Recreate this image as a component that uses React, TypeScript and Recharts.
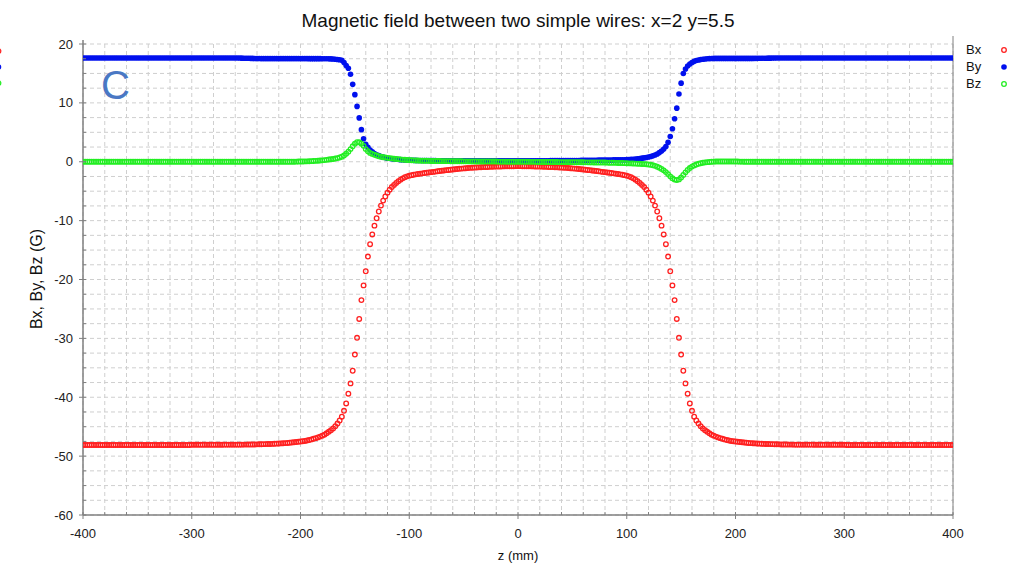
import React from 'react';
import { ScatterChart, Scatter, XAxis, YAxis, CartesianGrid, ReferenceLine } from 'recharts';

const FONT = '"Liberation Sans", Arial, Helvetica, sans-serif';

const zValues = [
  -400, -398, -396, -394, -392, -390, -388, -386, -384, -382,
  -380, -378, -376, -374, -372, -370, -368, -366, -364, -362,
  -360, -358, -356, -354, -352, -350, -348, -346, -344, -342,
  -340, -338, -336, -334, -332, -330, -328, -326, -324, -322,
  -320, -318, -316, -314, -312, -310, -308, -306, -304, -302,
  -300, -298, -296, -294, -292, -290, -288, -286, -284, -282,
  -280, -278, -276, -274, -272, -270, -268, -266, -264, -262,
  -260, -258, -256, -254, -252, -250, -248, -246, -244, -242,
  -240, -238, -236, -234, -232, -230, -228, -226, -224, -222,
  -220, -218, -216, -214, -212, -210, -208, -206, -204, -202,
  -200, -198, -196, -194, -192, -190, -188, -186, -184, -182,
  -180,
  -178, -176, -174, -172, -170, -168, -166, -164, -162, -160, -158, -156, -154, -152, -150, -148, -146, -144, -142, -140, -138, -136, -134, -132, -130, -128, -126, -124, -122,
  -120, -118, -116, -114, -112, -110, -108, -106, -104, -102,
  -100, -98, -96, -94, -92, -90, -88, -86, -84, -82,
  -80, -78, -76, -74, -72, -70, -68, -66, -64, -62,
  -60, -58, -56, -54, -52, -50, -48, -46, -44, -42,
  -40, -38, -36, -34, -32, -30, -28, -26, -24, -22,
  -20, -18, -16, -14, -12, -10, -8, -6, -4, -2,
  0,
  2, 4, 6, 8, 10, 12, 14, 16, 18, 20,
  22, 24, 26, 28, 30, 32, 34, 36, 38, 40,
  42, 44, 46, 48, 50, 52, 54, 56, 58, 60,
  62, 64, 66, 68, 70, 72, 74, 76, 78, 80,
  82, 84, 86, 88, 90, 92, 94, 96, 98, 100,
  102, 104, 106, 108, 110, 112, 114, 116, 118, 120,
  122, 124, 126, 128, 130, 132, 134, 136, 138, 140, 142, 144, 146, 148, 150, 152, 154, 156, 158, 160, 162, 164, 166, 168, 170, 172, 174, 176, 178,
  180,
  182, 184, 186, 188, 190, 192, 194, 196, 198, 200,
  202, 204, 206, 208, 210, 212, 214, 216, 218, 220,
  222, 224, 226, 228, 230, 232, 234, 236, 238, 240,
  242, 244, 246, 248, 250, 252, 254, 256, 258, 260,
  262, 264, 266, 268, 270, 272, 274, 276, 278, 280,
  282, 284, 286, 288, 290, 292, 294, 296, 298, 300,
  302, 304, 306, 308, 310, 312, 314, 316, 318, 320,
  322, 324, 326, 328, 330, 332, 334, 336, 338, 340,
  342, 344, 346, 348, 350, 352, 354, 356, 358, 360,
  362, 364, 366, 368, 370, 372, 374, 376, 378, 380,
  382, 384, 386, 388, 390, 392, 394, 396, 398, 400,
];

const bxValues = [
  -48.1, -48.1, -48.1, -48.1, -48.1, -48.1, -48.1, -48.1, -48.1, -48.1,
  -48.1, -48.1, -48.1, -48.1, -48.1, -48.1, -48.1, -48.1, -48.1, -48.1,
  -48.1, -48.1, -48.1, -48.1, -48.1, -48.1, -48.1, -48.1, -48.1, -48.1,
  -48.1, -48.1, -48.1, -48.1, -48.1, -48.1, -48.1, -48.1, -48.1, -48.1,
  -48.1, -48.1, -48.1, -48.1, -48.1, -48.1, -48.1, -48.1, -48.1, -48.1,
  -48.08, -48.08, -48.08, -48.08, -48.08, -48.07, -48.07, -48.07, -48.07, -48.07,
  -48.06, -48.06, -48.06, -48.06, -48.06, -48.05, -48.05, -48.05, -48.05, -48.05,
  -48.05, -48.05, -48.05, -48.05, -48.04, -48.04, -48.03, -48.03, -48.02, -48.02,
  -48.0, -47.99, -47.98, -47.97, -47.96, -47.95, -47.93, -47.92, -47.9, -47.88,
  -47.86, -47.84, -47.81, -47.79, -47.76, -47.73, -47.69, -47.65, -47.61, -47.57,
  -47.52, -47.47, -47.42, -47.34, -47.25, -47.16, -47.06, -46.95, -46.82, -46.68,
  -46.52,
  -46.35, -46.12, -45.87, -45.6, -45.3, -44.92, -44.47, -43.95, -43.3, -42.3, -41.05, -39.4, -37.65, -35.5, -32.75, -29.9, -26.7, -23.5, -21.0, -18.6, -16.1, -14.0, -12.35, -10.85, -9.6, -8.45, -7.45, -6.6, -5.9,
  -5.25, -4.75, -4.3, -3.93, -3.6, -3.3, -3.04, -2.82, -2.63, -2.48,
  -2.36, -2.28, -2.2, -2.14, -2.08, -2.02, -1.97, -1.92, -1.87, -1.82,
  -1.77, -1.72, -1.67, -1.62, -1.57, -1.52, -1.48, -1.43, -1.39, -1.35,
  -1.31, -1.27, -1.23, -1.19, -1.16, -1.13, -1.1, -1.07, -1.04, -1.01,
  -0.99, -0.97, -0.95, -0.93, -0.91, -0.89, -0.88, -0.86, -0.85, -0.83,
  -0.82, -0.81, -0.8, -0.79, -0.78, -0.77, -0.77, -0.76, -0.76, -0.75,
  -0.75,
  -0.75, -0.76, -0.76, -0.77, -0.77, -0.78, -0.79, -0.8, -0.81, -0.82,
  -0.83, -0.85, -0.86, -0.88, -0.89, -0.91, -0.93, -0.95, -0.97, -0.99,
  -1.01, -1.04, -1.07, -1.1, -1.13, -1.16, -1.19, -1.23, -1.27, -1.31,
  -1.35, -1.39, -1.43, -1.48, -1.52, -1.57, -1.62, -1.67, -1.72, -1.77,
  -1.82, -1.87, -1.92, -1.97, -2.02, -2.08, -2.14, -2.2, -2.28, -2.36,
  -2.48, -2.63, -2.82, -3.04, -3.3, -3.6, -3.93, -4.3, -4.75, -5.25,
  -5.9, -6.6, -7.45, -8.45, -9.6, -10.85, -12.35, -14.0, -16.1, -18.6, -21.0, -23.5, -26.7, -29.9, -32.75, -35.5, -37.65, -39.4, -41.05, -42.3, -43.3, -43.95, -44.47, -44.92, -45.3, -45.6, -45.87, -46.12, -46.35,
  -46.52,
  -46.68, -46.82, -46.95, -47.06, -47.16, -47.25, -47.34, -47.42, -47.47, -47.52,
  -47.57, -47.61, -47.65, -47.69, -47.73, -47.76, -47.79, -47.81, -47.84, -47.86,
  -47.88, -47.9, -47.92, -47.93, -47.95, -47.96, -47.97, -47.98, -47.99, -48.0,
  -48.02, -48.02, -48.03, -48.03, -48.04, -48.04, -48.05, -48.05, -48.05, -48.05,
  -48.05, -48.05, -48.05, -48.05, -48.05, -48.06, -48.06, -48.06, -48.06, -48.06,
  -48.07, -48.07, -48.07, -48.07, -48.07, -48.08, -48.08, -48.08, -48.08, -48.08,
  -48.1, -48.1, -48.1, -48.1, -48.1, -48.1, -48.1, -48.1, -48.1, -48.1,
  -48.1, -48.1, -48.1, -48.1, -48.1, -48.1, -48.1, -48.1, -48.1, -48.1,
  -48.1, -48.1, -48.1, -48.1, -48.1, -48.1, -48.1, -48.1, -48.1, -48.1,
  -48.1, -48.1, -48.1, -48.1, -48.1, -48.1, -48.1, -48.1, -48.1, -48.1,
  -48.1, -48.1, -48.1, -48.1, -48.1, -48.1, -48.1, -48.1, -48.1, -48.1,
];

const byValues = [
  17.62, 17.62, 17.62, 17.62, 17.62, 17.62, 17.62, 17.62, 17.62, 17.62,
  17.62, 17.62, 17.62, 17.62, 17.62, 17.62, 17.62, 17.62, 17.62, 17.62,
  17.62, 17.62, 17.62, 17.62, 17.62, 17.62, 17.62, 17.62, 17.62, 17.62,
  17.62, 17.62, 17.62, 17.62, 17.62, 17.62, 17.62, 17.62, 17.62, 17.62,
  17.62, 17.62, 17.62, 17.62, 17.62, 17.62, 17.62, 17.62, 17.62, 17.62,
  17.62, 17.62, 17.62, 17.62, 17.62, 17.62, 17.62, 17.62, 17.62, 17.62,
  17.62, 17.62, 17.62, 17.62, 17.62, 17.62, 17.62, 17.62, 17.62, 17.62,
  17.62, 17.62, 17.61, 17.6, 17.59, 17.58, 17.57, 17.56, 17.55, 17.54,
  17.53, 17.53, 17.52, 17.52, 17.52, 17.52, 17.52, 17.52, 17.52, 17.52,
  17.52, 17.52, 17.52, 17.52, 17.52, 17.52, 17.52, 17.52, 17.52, 17.52,
  17.52, 17.52, 17.52, 17.52, 17.51, 17.51, 17.51, 17.51, 17.51, 17.51,
  17.5,
  17.5, 17.49, 17.48, 17.47, 17.45, 17.42, 17.38, 17.32, 17.22, 16.85, 16.35, 15.87, 14.85, 13.15, 11.4, 9.4, 7.45, 5.45, 3.9, 2.96, 2.45, 2.0, 1.68, 1.4, 1.2, 1.06, 0.9, 0.78, 0.68,
  0.6, 0.55, 0.5, 0.46, 0.42, 0.39, 0.36, 0.33, 0.3, 0.28,
  0.26, 0.25, 0.24, 0.23, 0.22, 0.21, 0.21, 0.2, 0.2, 0.2,
  0.19, 0.19, 0.19, 0.18, 0.18, 0.18, 0.18, 0.17, 0.17, 0.17,
  0.17, 0.17, 0.17, 0.16, 0.16, 0.16, 0.16, 0.16, 0.16, 0.16,
  0.16, 0.15, 0.15, 0.15, 0.15, 0.15, 0.15, 0.15, 0.15, 0.15,
  0.15, 0.15, 0.15, 0.15, 0.15, 0.15, 0.15, 0.15, 0.15, 0.15,
  0.15,
  0.15, 0.15, 0.16, 0.16, 0.16, 0.16, 0.17, 0.17, 0.17, 0.17,
  0.18, 0.18, 0.18, 0.18, 0.19, 0.19, 0.19, 0.19, 0.2, 0.2,
  0.2, 0.2, 0.21, 0.21, 0.21, 0.21, 0.22, 0.22, 0.23, 0.23,
  0.24, 0.24, 0.25, 0.25, 0.26, 0.26, 0.27, 0.27, 0.28, 0.28,
  0.29, 0.29, 0.3, 0.31, 0.32, 0.32, 0.33, 0.34, 0.35, 0.36,
  0.38, 0.4, 0.43, 0.47, 0.51, 0.56, 0.61, 0.66, 0.73, 0.8,
  0.88, 1.0, 1.15, 1.32, 1.55, 1.83, 2.15, 2.6, 3.3, 4.3, 5.6, 7.3, 9.1, 11.5, 13.35, 15.0, 15.75, 16.25, 16.6, 16.85, 17.05, 17.2, 17.28, 17.35, 17.4, 17.45, 17.5, 17.52, 17.54,
  17.55,
  17.55, 17.55, 17.55, 17.55, 17.55, 17.55, 17.55, 17.55, 17.55, 17.55,
  17.55, 17.55, 17.55, 17.55, 17.55, 17.55, 17.55, 17.55, 17.56, 17.56,
  17.57, 17.57, 17.58, 17.59, 17.6, 17.6, 17.61, 17.61, 17.62, 17.62,
  17.62, 17.62, 17.62, 17.62, 17.62, 17.62, 17.62, 17.62, 17.62, 17.62,
  17.62, 17.62, 17.62, 17.62, 17.62, 17.62, 17.62, 17.62, 17.62, 17.62,
  17.62, 17.62, 17.62, 17.62, 17.62, 17.62, 17.62, 17.62, 17.62, 17.62,
  17.62, 17.62, 17.62, 17.62, 17.62, 17.62, 17.62, 17.62, 17.62, 17.62,
  17.62, 17.62, 17.62, 17.62, 17.62, 17.62, 17.62, 17.62, 17.62, 17.62,
  17.62, 17.62, 17.62, 17.62, 17.62, 17.62, 17.62, 17.62, 17.62, 17.62,
  17.62, 17.62, 17.62, 17.62, 17.62, 17.62, 17.62, 17.62, 17.62, 17.62,
  17.62, 17.62, 17.62, 17.62, 17.62, 17.62, 17.62, 17.62, 17.62, 17.62,
];

const bzValues = [
  0, 0, 0, 0, 0, 0, 0, 0, 0, 0,
  0, 0, 0, 0, 0, 0, 0, 0, 0, 0,
  0, 0, 0, 0, 0, 0, 0, 0, 0, 0,
  0, 0, 0, 0, 0, 0, 0, 0, 0, 0,
  0, 0, 0, 0, 0, 0, 0, 0, 0, 0,
  0, 0, 0, 0, 0, 0, 0, 0, 0, 0,
  0, 0, 0, 0, 0, 0, 0, 0, 0, 0,
  0, 0, 0, 0, 0, 0, 0, 0, 0, 0,
  0, 0, 0, 0, 0, 0, 0, 0, 0, 0,
  0, 0, 0, 0, 0, 0, 0.01, 0.01, 0.02, 0.03,
  0.04, 0.05, 0.06, 0.07, 0.09, 0.11, 0.13, 0.15, 0.18, 0.21,
  0.24,
  0.28, 0.32, 0.37, 0.42, 0.47, 0.54, 0.62, 0.72, 0.85, 1.05, 1.35, 1.7, 2.15, 2.62, 3.05, 3.32, 3.3, 3.07, 2.7, 2.15, 1.78, 1.5, 1.33, 1.18, 1.05, 0.93, 0.84, 0.77, 0.71,
  0.66, 0.61, 0.57, 0.52, 0.48, 0.44, 0.4, 0.36, 0.33, 0.3,
  0.28, 0.26, 0.24, 0.22, 0.21, 0.19, 0.18, 0.17, 0.16, 0.15,
  0.14, 0.14, 0.13, 0.12, 0.12, 0.11, 0.11, 0.1, 0.1, 0.09,
  0.09, 0.08, 0.08, 0.08, 0.08, 0.07, 0.07, 0.07, 0.06, 0.06,
  0.06, 0.05, 0.05, 0.05, 0.05, 0.04, 0.04, 0.04, 0.03, 0.03,
  0.03, 0.02, 0.02, 0.02, 0.02, 0.01, 0.01, 0.01, 0, 0,
  0,
  0, 0, -0.01, -0.01, -0.01, -0.02, -0.02, -0.02, -0.03, -0.03,
  -0.03, -0.03, -0.04, -0.04, -0.04, -0.05, -0.05, -0.05, -0.06, -0.06,
  -0.06, -0.06, -0.07, -0.07, -0.07, -0.08, -0.08, -0.08, -0.09, -0.09,
  -0.1, -0.1, -0.11, -0.11, -0.12, -0.12, -0.13, -0.13, -0.14, -0.14,
  -0.15, -0.16, -0.17, -0.18, -0.19, -0.2, -0.21, -0.22, -0.24, -0.25,
  -0.27, -0.28, -0.3, -0.31, -0.33, -0.35, -0.37, -0.4, -0.43, -0.46,
  -0.52, -0.6, -0.7, -0.86, -1.03, -1.23, -1.46, -1.76, -2.1, -2.48, -2.8, -3.03, -3.12, -3.0, -2.68, -2.25, -1.8, -1.4, -1.07, -0.82, -0.62, -0.47, -0.35, -0.25, -0.17, -0.11, -0.07, -0.03, 0,
  0.02,
  0.03, 0.04, 0.05, 0.05, 0.05, 0.05, 0.05, 0.04, 0.04, 0.03,
  0.03, 0.02, 0.02, 0.01, 0.01, 0, 0, 0, 0, 0,
  0, 0, 0, 0, 0, 0, 0, 0, 0, 0,
  0, 0, 0, 0, 0, 0, 0, 0, 0, 0,
  0, 0, 0, 0, 0, 0, 0, 0, 0, 0,
  0, 0, 0, 0, 0, 0, 0, 0, 0, 0,
  0, 0, 0, 0, 0, 0, 0, 0, 0, 0,
  0, 0, 0, 0, 0, 0, 0, 0, 0, 0,
  0, 0, 0, 0, 0, 0, 0, 0, 0, 0,
  0, 0, 0, 0, 0, 0, 0, 0, 0, 0,
  0, 0, 0, 0, 0, 0, 0, 0, 0, 0,
];

const xTicks = [
  -400, -380, -360, -340, -320, -300, -280, -260, -240, -220, -200, -180, -160, -140, -120, -100, -80, -60, -40, -20,
  0, 20, 40, 60, 80, 100, 120, 140, 160, 180, 200, 220, 240, 260, 280, 300, 320, 340, 360, 380, 400,
];
const xLabelTicks = [-400, -300, -200, -100, 0, 100, 200, 300, 400];

const yTicks = [
  -60, -57.5, -55, -52.5, -50, -47.5, -45, -42.5, -40, -37.5, -35, -32.5, -30, -27.5, -25, -22.5, -20, -17.5, -15, -12.5,
  -10, -7.5, -5, -2.5, 0, 2.5, 5, 7.5, 10, 12.5, 15, 17.5, 20,
];
const yLabelTicks = [-60, -50, -40, -30, -20, -10, 0, 10, 20];

const seriesNames = ['Bx', 'By', 'Bz'];
const RED = '#ff2020';
const BLUE = '#0010ee';
const GREEN = '#22ee22';
const AXIS = '#808080';

const bxData = zValues.map((z, i) => ({ z, v: bxValues[i] }));
const byData = zValues.map((z, i) => ({ z, v: byValues[i] }));
const bzData = zValues.map((z, i) => ({ z, v: bzValues[i] }));

const XTick = (props: any) => {
  const { x, y, payload } = props;
  const v = payload.value;
  const major = xLabelTicks.includes(v);
  return (
    <g>
      {major ? (
        <line x1={x} x2={x} y1={y - 3} y2={y + 4} stroke={AXIS} strokeWidth={1} />
      ) : (
        <line x1={x} x2={x} y1={y - 3} y2={y} stroke={AXIS} strokeWidth={1} />
      )}
      {major && (
        <text x={x} y={y + 23} textAnchor="middle" fontSize={13} fill="#222" fontFamily={FONT}>
          {v}
        </text>
      )}
    </g>
  );
};

const YTick = (props: any) => {
  const { x, y, payload } = props;
  const v = payload.value;
  const major = yLabelTicks.includes(v);
  return (
    <g>
      {major ? (
        <line x1={x - 4} x2={x + 3} y1={y} y2={y} stroke={AXIS} strokeWidth={1} />
      ) : (
        <line x1={x} x2={x + 3} y1={y} y2={y} stroke={AXIS} strokeWidth={1} />
      )}
      {major && (
        <text x={x - 10} y={y + 4.5} textAnchor="end" fontSize={13} fill="#222" fontFamily={FONT}>
          {v}
        </text>
      )}
    </g>
  );
};

const OpenRed = (p: any) => <circle cx={p.cx} cy={p.cy} r={2.3} fill="none" stroke={RED} strokeWidth={1.3} />;
const FilledBlue = (p: any) => <circle cx={p.cx} cy={p.cy} r={2.8} fill={BLUE} stroke="none" />;
const OpenGreen = (p: any) => <circle cx={p.cx} cy={p.cy} r={2.3} fill="none" stroke={GREEN} strokeWidth={1.3} />;

export default function App() {
  return (
    <div style={{ position: 'absolute', left: 0, top: 0, width: 1024, height: 569, background: '#fff' }}>
      <ScatterChart width={1024} height={569} margin={{ top: 44, right: 71, bottom: 0, left: 0 }}>
        <CartesianGrid stroke="#cfcfcf" strokeDasharray="4 3" />
        <XAxis
          type="number"
          dataKey="z"
          domain={[-400, 400]}
          ticks={xTicks}
          interval={0}
          allowDataOverflow
          height={54}
          tickSize={0}
          tickMargin={0}
          tickLine={false}
          tick={<XTick />}
          axisLine={{ stroke: AXIS, strokeWidth: 1.5 }}
        />
        <YAxis
          type="number"
          dataKey="v"
          domain={[-60, 20]}
          ticks={yTicks}
          interval={0}
          allowDataOverflow
          width={83}
          tickSize={0}
          tickMargin={0}
          tickLine={false}
          tick={<YTick />}
          axisLine={{ stroke: AXIS, strokeWidth: 1.5 }}
        />
        <ReferenceLine x={400} stroke={AXIS} strokeWidth={1} />
        <Scatter name={seriesNames[0]} data={bxData} shape={OpenRed} isAnimationActive={false} />
        <Scatter name={seriesNames[1]} data={byData} shape={FilledBlue} isAnimationActive={false} />
        <Scatter name={seriesNames[2]} data={bzData} shape={OpenGreen} isAnimationActive={false} />
      </ScatterChart>
      <svg
        width={1024}
        height={569}
        style={{ position: 'absolute', left: 0, top: 0, pointerEvents: 'none' }}
      >
        <text x={518} y={27} textAnchor="middle" fontSize={19} fill="#111" fontFamily={FONT}>
          Magnetic field between two simple wires: x=2 y=5.5
        </text>
        <text x={518} y={560} textAnchor="middle" fontSize={13} fill="#111" fontFamily={FONT}>
          z (mm)
        </text>
        <text
          x={0}
          y={0}
          transform="translate(42 279) rotate(-90)"
          textAnchor="middle"
          fontSize={16}
          fill="#111"
          fontFamily={FONT}
        >
          Bx, By, Bz (G)
        </text>
        <text x={101} y={99} fontSize={40} fill="#4a78c4" fontFamily={FONT}>
          C
        </text>
        <line x1={953} x2={953} y1={36} y2={44} stroke={AXIS} strokeWidth={1} />
        <line x1={83} x2={83} y1={40} y2={44} stroke={AXIS} strokeWidth={1.5} />
        <text x={966} y={54} fontSize={13} fill="#111" fontFamily={FONT}>{seriesNames[0]}</text>
        <text x={966} y={71} fontSize={13} fill="#111" fontFamily={FONT}>{seriesNames[1]}</text>
        <text x={966} y={88} fontSize={13} fill="#111" fontFamily={FONT}>{seriesNames[2]}</text>
        <circle cx={1004} cy={50} r={2.3} fill="none" stroke={RED} strokeWidth={1.3} />
        <circle cx={1004} cy={67} r={2.8} fill={BLUE} />
        <circle cx={1004} cy={84} r={2.3} fill="none" stroke={GREEN} strokeWidth={1.3} />
        <circle cx={-1.5} cy={51} r={2.3} fill="none" stroke={RED} strokeWidth={1.3} />
        <circle cx={-1.5} cy={67} r={2.8} fill={BLUE} />
        <circle cx={-1.5} cy={83} r={2.3} fill="none" stroke={GREEN} strokeWidth={1.3} />
      </svg>
    </div>
  );
}
